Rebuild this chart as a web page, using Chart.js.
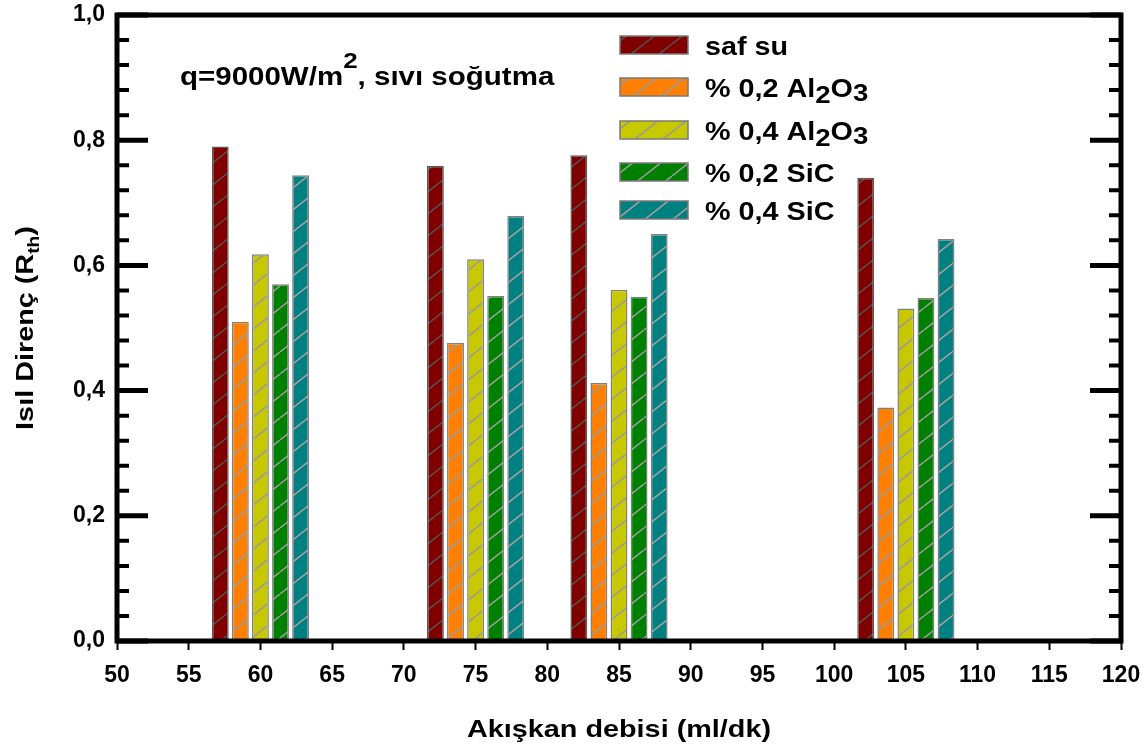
<!DOCTYPE html>
<html>
<head>
<meta charset="utf-8">
<script src="https://cdn.jsdelivr.net/npm/chart.js@4"></script>
<style>
  html, body { margin: 0; padding: 0; background: #fff; }
  #wrap { width: 1148px; height: 751px; }
</style>
</head>
<body>
<div id="wrap"><canvas id="chart" width="1148" height="751"></canvas></div>
<script>
// Data
const flowRates = [60, 75, 85, 105];
const seriesNames = ['saf su', '% 0,2 Al2O3', '% 0,4 Al2O3', '% 0,2 SiC', '% 0,4 SiC'];
const safSu = [0.790, 0.759, 0.776, 0.740];
const al2o3Low = [0.510, 0.476, 0.412, 0.373];
const al2o3High = [0.618, 0.610, 0.561, 0.531];
const sicLow = [0.570, 0.551, 0.550, 0.548];
const sicHigh = [0.744, 0.679, 0.650, 0.642];
const yTicks = [0, 0.2, 0.4, 0.6, 0.8, 1.0];

const FONT = '"Liberation Sans", Arial, sans-serif';
const fillColors = ['#800000', '#ff8000', '#c8c800', '#008000', '#008080'];
const hatchColors = ['rgba(85,85,85,0.9)', '#9a9a9a', '#9a9a9a', '#9a9a9a', '#a0a0a0'];

// diagonal "/" hatch fill
function hatch(color, lineColor) {
  const w = 28, h = 22;
  const c = document.createElement('canvas');
  c.width = w; c.height = h;
  const g = c.getContext('2d');
  g.fillStyle = color;
  g.fillRect(0, 0, w, h);
  g.strokeStyle = lineColor;
  g.lineWidth = 1.6;
  g.beginPath();
  g.moveTo(0, h); g.lineTo(w, 0);
  g.moveTo(-w, h); g.lineTo(0, 0);
  g.moveTo(w, h); g.lineTo(2 * w, 0);
  g.stroke();
  return g.createPattern(c, 'repeat');
}

const patterns = fillColors.map((c, i) => hatch(c, hatchColors[i]));
const allSeries = [safSu, al2o3Low, al2o3High, sicLow, sicHigh];

// text pieces with sub/superscripts
function richParts(label) {
  const m = label.match(/^(.*Al)2O3$/);
  if (m) return [{ t: m[1] }, { t: '2', dy: 6, size: 24 }, { t: 'O' }, { t: '3', dy: 4, size: 24 }];
  return [{ t: label }];
}

function drawRich(ctx, parts, size, sx, align) {
  ctx.save();
  ctx.scale(sx, 1);
  let total = 0;
  parts.forEach(p => {
    ctx.font = 'bold ' + (p.size || size) + 'px ' + FONT;
    total += ctx.measureText(p.t).width;
  });
  let x = align === 'center' ? -total / 2 : 0;
  ctx.textBaseline = 'alphabetic';
  ctx.textAlign = 'left';
  ctx.fillStyle = '#000';
  parts.forEach(p => {
    ctx.font = 'bold ' + (p.size || size) + 'px ' + FONT;
    ctx.fillText(p.t, x, p.dy || 0);
    x += ctx.measureText(p.t).width;
  });
  ctx.restore();
}

const legendRows = [45, 87, 130, 172, 210];

const framePlugin = {
  id: 'frame',
  afterDatasetsDraw(chart) {
    const { ctx, chartArea: a, scales: { y } } = chart;
    ctx.save();
    ctx.strokeStyle = '#000';
    // inward ticks on left and right axes
    for (let i = 0; i <= 25; i++) {
      const py = y.getPixelForValue(i * 0.04);
      const major = i % 5 === 0;
      const len = major ? 31 : 12;
      ctx.lineWidth = major ? 5 : 4;
      ctx.beginPath();
      ctx.moveTo(a.left, py); ctx.lineTo(a.left + len, py);
      ctx.moveTo(a.right, py); ctx.lineTo(a.right - len, py);
      ctx.stroke();
    }
    ctx.lineWidth = 5;
    ctx.strokeRect(a.left, a.top, a.right - a.left, a.bottom - a.top);
    ctx.restore();
  },
  afterDraw(chart) {
    const { ctx, chartArea: a } = chart;
    // legend
    chart.data.datasets.forEach((ds, i) => {
      const cy = legendRows[i];
      ctx.save();
      ctx.fillStyle = patterns[i];
      ctx.fillRect(620, cy - 9, 68, 18);
      ctx.strokeStyle = '#7a7a7a';
      ctx.lineWidth = 1.5;
      ctx.strokeRect(620, cy - 9, 68, 18);
      ctx.translate(705, cy + 10);
      drawRich(ctx, richParts(ds.label), 25, 1.15, 'left');
      ctx.restore();
    });
    // annotation
    ctx.save();
    ctx.translate(180, 85);
    drawRich(ctx, [{ t: 'q=9000W/m' }, { t: '2', dy: -17, size: 22 }, { t: ', sıvı soğutma' }], 25, 1.18, 'left');
    ctx.restore();
    // x title
    ctx.save();
    ctx.translate((a.left + a.right) / 2, 737);
    drawRich(ctx, [{ t: 'Akışkan debisi (ml/dk)' }], 24, 1.2, 'center');
    ctx.restore();
    // y title
    ctx.save();
    ctx.translate(33, (a.top + a.bottom) / 2);
    ctx.rotate(-Math.PI / 2);
    drawRich(ctx, [{ t: 'Isıl Direnç (R' }, { t: 'th', dy: 6, size: 16 }, { t: ')' }], 24, 1.2, 'center');
    ctx.restore();
  }
};

new Chart(document.getElementById('chart'), {
  type: 'bar',
  data: {
    datasets: seriesNames.map((name, i) => ({
      label: name,
      data: flowRates.map((x, j) => ({ x: x, y: allSeries[i][j] })),
      backgroundColor: patterns[i],
      borderColor: i === 0 ? '#5a5a5a' : '#808080',
      borderWidth: 1.5,
      borderSkipped: false,
      categoryPercentage: 1.4,
      barPercentage: 0.84
    }))
  },
  options: {
    responsive: false,
    animation: false,
    layout: { padding: { top: 15, right: 27, left: 0, bottom: 0 } },
    plugins: { legend: { display: false }, tooltip: { enabled: false } },
    scales: {
      x: {
        type: 'linear',
        min: 50,
        max: 120,
        offset: false,
        ticks: { stepSize: 5, color: '#000', font: { family: FONT, size: 23, weight: 'bold' }, padding: 12, maxRotation: 0 },
        grid: { offset: false, drawOnChartArea: false, drawTicks: true, tickLength: 9, tickWidth: 2, tickColor: '#000' },
        border: { display: false },
        afterFit(s) { s.height = 110; s.paddingLeft = 0; s.paddingRight = 0; }
      },
      y: {
        min: 0,
        max: 1,
        afterBuildTicks(s) { s.ticks = yTicks.map(v => ({ value: v })); },
        ticks: {
          color: '#000',
          font: { family: FONT, size: 23, weight: 'bold' },
          padding: 12,
          callback: v => v.toFixed(1).replace('.', ',')
        },
        grid: { display: false, drawTicks: false },
        border: { display: false },
        afterFit(s) { s.width = 117; s.paddingTop = 0; s.paddingBottom = 0; }
      }
    }
  },
  plugins: [framePlugin]
});
</script>
</body>
</html>
